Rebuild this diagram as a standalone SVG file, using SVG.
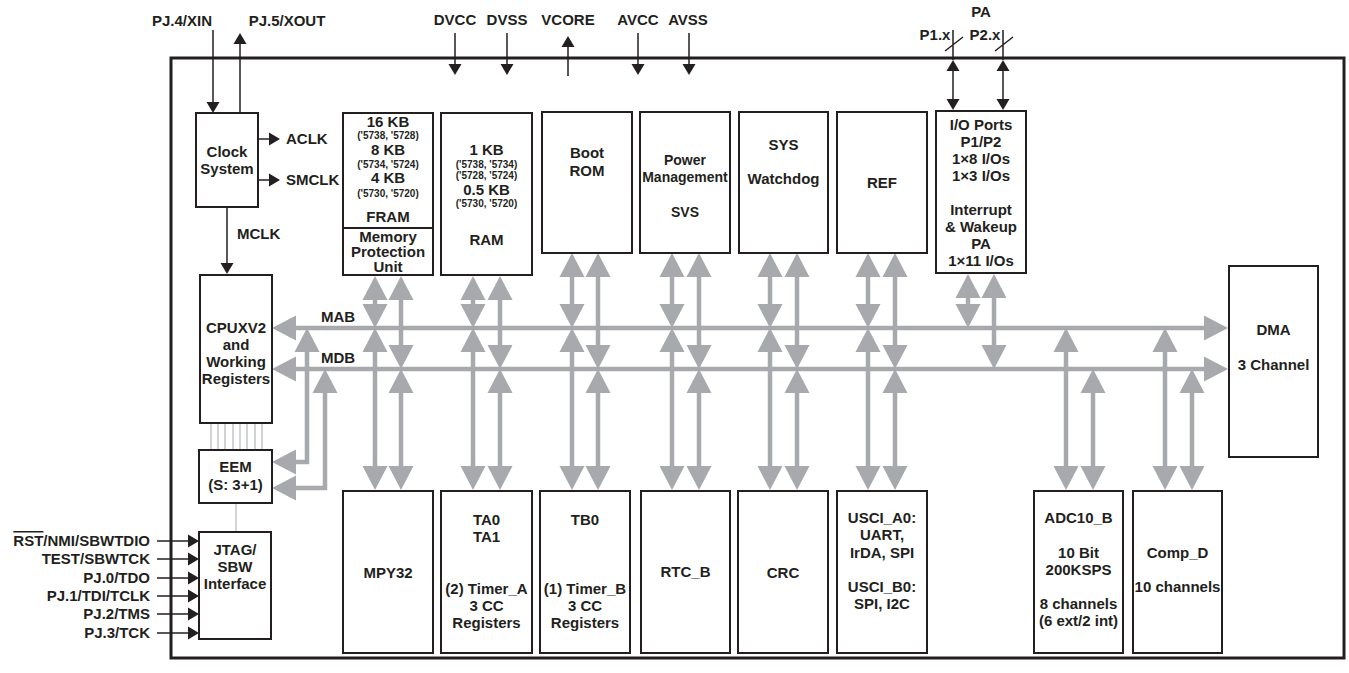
<svg xmlns="http://www.w3.org/2000/svg" width="1349" height="673" viewBox="0 0 1349 673">
<style>
.t{font-family:"Liberation Sans",Arial,sans-serif;font-weight:bold;font-size:15px;fill:#231f20;text-anchor:middle}
.s{font-size:10px}
.m{font-size:14px}
.e{text-anchor:end}
.st{text-anchor:start}
.box{fill:#fff;stroke:#231f20;stroke-width:2}
.chip{fill:none;stroke:#231f20;stroke-width:3}
.bus{stroke:#a7a9ac;stroke-width:4.5;fill:none;marker-start:url(#gh);marker-end:url(#gh)}
.bus1{stroke:#a7a9ac;stroke-width:4.5;fill:none}
.pin{stroke:#231f20;stroke-width:1.5;fill:none;marker-end:url(#bh)}
.pin2{stroke:#231f20;stroke-width:1.5;fill:none;marker-start:url(#bh);marker-end:url(#bh)}
.ln{stroke:#231f20;stroke-width:1.5;fill:none}
.thin{stroke:#a7a9ac;stroke-width:1;fill:none}
</style>
<defs>
<marker id="gh" markerUnits="userSpaceOnUse" markerWidth="26" markerHeight="26" refX="0" refY="12.5" orient="auto-start-reverse" overflow="visible"><path d="M0,0 L24,12.5 L0,25 z" fill="#a7a9ac"/></marker>
<marker id="bh" markerUnits="userSpaceOnUse" markerWidth="12" markerHeight="13" refX="0" refY="6.5" orient="auto-start-reverse" overflow="visible"><path d="M0,0 L11,6.5 L0,13 z" fill="#231f20"/></marker>
</defs>
<rect width="1349" height="673" fill="#fff"/>
<rect id="chip" class="chip" x="171" y="58" width="1173" height="600"/>

<g id="connectors">
<!-- pins -->
<path class="pin" d="M213,30 V102"/>
<path class="pin" d="M240,113 V44"/>
<path class="pin" d="M258,139 H269"/>
<path class="pin" d="M258,180 H269"/>
<path class="pin" d="M227,207 V263"/>
<path class="pin" d="M455,33 V64"/>
<path class="pin" d="M507,33 V64"/>
<path class="pin" d="M568,76 V47"/>
<path class="pin" d="M638,33 V64"/>
<path class="pin" d="M689,33 V64"/>
<path class="ln" d="M953,30 V60 M1003,30 V60 M945,51 L963,37 M995,51 L1013,37"/>
<path class="pin2" d="M953,71 V99"/>
<path class="pin2" d="M1003,71 V99"/>
<path class="pin" d="M157,541 H188"/>
<path class="pin" d="M157,559 H188"/>
<path class="pin" d="M157,578 H188"/>
<path class="pin" d="M157,596 H188"/>
<path class="pin" d="M157,614 H188"/>
<path class="pin" d="M157,633 H188"/>
<!-- thin links -->
<path class="thin" d="M211,423 V450 M218,423 V450 M225,423 V450 M233,423 V450 M240,423 V450 M247,423 V450 M255,423 V450 M262,423 V450 M236,503 V532"/>
<!-- buses -->
<path class="bus" d="M296,328 H1204"/>
<path class="bus" d="M296,369 H1204"/>
<path class="bus" d="M307,352 V462 H296"/>
<path class="bus" d="M325,393 V488 H296"/>
<!-- MPU / MPY32 -->
<path class="bus" d="M375,300 V304"/><path class="bus" d="M401,300 V345"/>
<path class="bus" d="M375,352 V466"/><path class="bus" d="M401,393 V466"/>
<!-- RAM / TA -->
<path class="bus" d="M473,300 V304"/><path class="bus" d="M500,300 V345"/>
<path class="bus" d="M473,352 V466"/><path class="bus" d="M500,393 V466"/>
<!-- Boot ROM / TB -->
<path class="bus" d="M572,277 V304"/><path class="bus" d="M598,277 V345"/>
<path class="bus" d="M572,352 V466"/><path class="bus" d="M598,393 V466"/>
<!-- Power / RTC -->
<path class="bus" d="M672,277 V304"/><path class="bus" d="M699,277 V345"/>
<path class="bus" d="M672,352 V466"/><path class="bus" d="M699,393 V466"/>
<!-- SYS / CRC -->
<path class="bus" d="M770,277 V304"/><path class="bus" d="M797,277 V345"/>
<path class="bus" d="M770,352 V466"/><path class="bus" d="M797,393 V466"/>
<!-- REF / USCI -->
<path class="bus" d="M868,277 V304"/><path class="bus" d="M895,277 V345"/>
<path class="bus" d="M868,352 V466"/><path class="bus" d="M895,393 V466"/>
<!-- IO -->
<path class="bus" d="M968,298 V304"/><path class="bus" d="M994,298 V345"/>
<!-- ADC -->
<path class="bus" d="M1066,352 V466"/><path class="bus" d="M1093,393 V466"/>
<!-- Comp -->
<path class="bus" d="M1165,352 V466"/><path class="bus" d="M1192,393 V466"/>
</g>

<g id="pin-labels">
<text class="t" x="182" y="26">PJ.4/XIN</text>
<text class="t" x="287" y="26">PJ.5/XOUT</text>
<text class="t" x="455" y="25">DVCC</text>
<text class="t" x="507" y="25">DVSS</text>
<text class="t" x="568" y="25">VCORE</text>
<text class="t" x="638" y="25">AVCC</text>
<text class="t" x="688" y="25">AVSS</text>
<text class="t" x="981" y="17">PA</text>
<text class="t" x="935" y="40">P1.x</text>
<text class="t" x="985" y="40">P2.x</text>
<text class="t st" x="286" y="144">ACLK</text>
<text class="t st" x="286" y="185">SMCLK</text>
<text class="t st" x="237" y="239">MCLK</text>
<text class="t" x="338" y="322">MAB</text>
<text class="t" x="338" y="363">MDB</text>
<text class="t e" x="150" y="546"><tspan text-decoration="overline">RST</tspan>/NMI/SBWTDIO</text>
<text class="t e" x="150" y="564">TEST/SBWTCK</text>
<text class="t e" x="150" y="583">PJ.0/TDO</text>
<text class="t e" x="150" y="601">PJ.1/TDI/TCLK</text>
<text class="t e" x="150" y="619">PJ.2/TMS</text>
<text class="t e" x="150" y="638">PJ.3/TCK</text>
</g>

<g id="clock"><rect class="box" x="196" y="113" width="62" height="94"/>
<text class="t" x="227" y="157">Clock</text><text class="t" x="227" y="174">System</text></g>

<g id="cpu"><rect class="box" x="200" y="275" width="72" height="148"/>
<text class="t" x="236" y="333">CPUXV2</text><text class="t" x="236" y="350">and</text><text class="t" x="236" y="367">Working</text><text class="t" x="236" y="384">Registers</text></g>

<g id="eem"><rect class="box" x="199" y="450" width="73" height="53"/>
<text class="t" x="235.5" y="472">EEM</text><text class="t" x="235.5" y="490">(S: 3+1)</text></g>

<g id="jtag"><rect class="box" x="199" y="532" width="72" height="107"/>
<text class="t" x="235" y="555">JTAG/</text><text class="t" x="235" y="572">SBW</text><text class="t" x="235" y="589">Interface</text></g>

<g id="fram"><rect class="box" x="343" y="113" width="90" height="162"/>
<line class="ln" x1="343" y1="228" x2="433" y2="228" style="stroke-width:2"/>
<text class="t" x="388" y="127">16 KB</text>
<text class="t s" x="388" y="139">('5738, '5728)</text>
<text class="t" x="388" y="155">8 KB</text>
<text class="t s" x="388" y="168">('5734, '5724)</text>
<text class="t" x="388" y="183">4 KB</text>
<text class="t s" x="388" y="197">('5730, '5720)</text>
<text class="t" x="388" y="222">FRAM</text>
<text class="t" x="388" y="242">Memory</text>
<text class="t" x="388" y="257">Protection</text>
<text class="t" x="388" y="272">Unit</text></g>

<g id="ram"><rect class="box" x="441" y="113" width="91" height="162"/>
<text class="t" x="486.5" y="155">1 KB</text>
<text class="t s" x="486.5" y="168">('5738, '5734)</text>
<text class="t s" x="486.5" y="179">('5728, '5724)</text>
<text class="t" x="486.5" y="195">0.5 KB</text>
<text class="t s" x="486.5" y="207">('5730, '5720)</text>
<text class="t" x="486.5" y="245">RAM</text></g>

<g id="bootrom"><rect class="box" x="542" y="112" width="90" height="141"/>
<text class="t" x="587" y="158">Boot</text><text class="t" x="587" y="176">ROM</text></g>

<g id="power"><rect class="box" x="640" y="112" width="90" height="141"/>
<text class="t m" x="685" y="165">Power</text><text class="t m" x="685" y="182">Management</text><text class="t m" x="685" y="217">SVS</text></g>

<g id="sys"><rect class="box" x="739" y="112" width="89" height="141"/>
<text class="t" x="783.5" y="150">SYS</text><text class="t" x="783.5" y="184">Watchdog</text></g>

<g id="ref"><rect class="box" x="837" y="112" width="90" height="141"/>
<text class="t" x="882" y="188">REF</text></g>

<g id="io"><rect class="box" x="936" y="111" width="90" height="162"/>
<text class="t" x="981" y="130">I/O Ports</text>
<text class="t" x="981" y="147">P1/P2</text>
<text class="t" x="981" y="164">1×8 I/Os</text>
<text class="t" x="981" y="181">1×3 I/Os</text>
<text class="t" x="981" y="215">Interrupt</text>
<text class="t" x="981" y="232">&amp; Wakeup</text>
<text class="t" x="981" y="249">PA</text>
<text class="t" x="981" y="266">1×11 I/Os</text></g>

<g id="dma"><rect class="box" x="1229" y="266" width="89" height="191"/>
<text class="t" x="1273.5" y="335">DMA</text><text class="t" x="1273.5" y="370">3 Channel</text></g>

<g id="mpy32"><rect class="box" x="343" y="491" width="90" height="162"/>
<text class="t" x="388" y="578">MPY32</text></g>

<g id="ta"><rect class="box" x="441" y="491" width="91" height="162"/>
<text class="t" x="486.5" y="525">TA0</text><text class="t" x="486.5" y="542">TA1</text>
<text class="t" x="486.5" y="594">(2) Timer_A</text><text class="t" x="486.5" y="611">3 CC</text><text class="t" x="486.5" y="628">Registers</text></g>

<g id="tb"><rect class="box" x="540" y="491" width="90" height="162"/>
<text class="t" x="585" y="525">TB0</text>
<text class="t" x="585" y="594">(1) Timer_B</text><text class="t" x="585" y="611">3 CC</text><text class="t" x="585" y="628">Registers</text></g>

<g id="rtc"><rect class="box" x="641" y="491" width="89" height="162"/>
<text class="t" x="685.5" y="577">RTC_B</text></g>

<g id="crc"><rect class="box" x="738" y="491" width="90" height="162"/>
<text class="t" x="783" y="578">CRC</text></g>

<g id="usci"><rect class="box" x="837" y="491" width="90" height="162"/>
<text class="t" x="882" y="523">USCI_A0:</text><text class="t" x="882" y="540">UART,</text><text class="t" x="882" y="558">IrDA, SPI</text>
<text class="t" x="882" y="592">USCI_B0:</text><text class="t" x="882" y="609">SPI, I2C</text></g>

<g id="adc"><rect class="box" x="1034" y="491" width="89" height="162"/>
<text class="t" x="1078.5" y="523">ADC10_B</text><text class="t" x="1078.5" y="558">10 Bit</text><text class="t" x="1078.5" y="575">200KSPS</text>
<text class="t" x="1078.5" y="609">8 channels</text><text class="t" x="1078.5" y="626">(6 ext/2 int)</text></g>

<g id="comp"><rect class="box" x="1133" y="491" width="89" height="162"/>
<text class="t" x="1177.5" y="558">Comp_D</text><text class="t" x="1177.5" y="592">10 channels</text></g>
</svg>
